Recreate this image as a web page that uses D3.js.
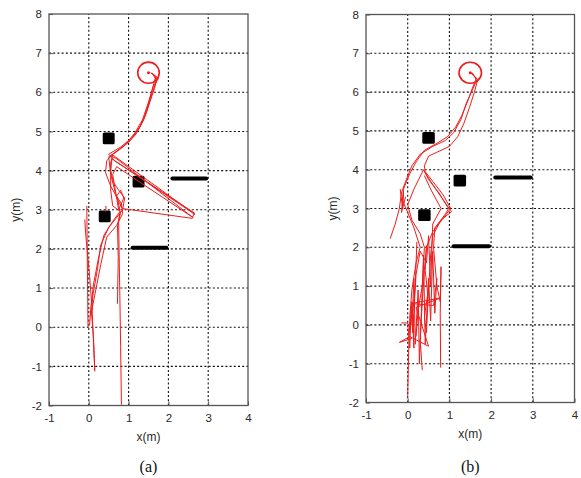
<!DOCTYPE html>
<html>
<head>
<meta charset="utf-8">
<script src="https://cdn.jsdelivr.net/npm/d3@7"></script>
<style>
  body { margin: 0; background: #fff; }
  svg { display: block; }
  .tick text { font-family: "Liberation Sans", Arial, sans-serif; font-size: 11.5px; fill: #2a2a2a; }
</style>
</head>
<body>
<svg id="chart" width="581" height="478"></svg>
<script>
// Axis ranges and tick values (metres)
const xTicks = [-1, 0, 1, 2, 3, 4];
const yTicks = [-2, -1, 0, 1, 2, 3, 4, 5, 6, 7, 8];
const panelLabels = ["(a)", "(b)"];

// Goal position and its capture radius
const goal = [1.5, 6.5];
const goalRadius = 0.27;

// Square obstacles: centre x, centre y, side
const squares = [[0.5, 4.82, 0.3], [1.25, 3.72, 0.3], [0.4, 2.83, 0.3]];
// Wall obstacles: x start, x end, y
const walls = [[1.1, 1.95, 2.03], [2.1, 2.95, 3.8]];

// Recorded robot paths, panel (a)
const pathsA = [
  [[0.02,0.05],[0.05,0.5],[0.12,1.1],[0.25,1.8],[0.38,2.35],[0.6,2.7],[0.78,2.95],[0.72,3.3],[0.55,3.6],[0.42,3.95],[0.45,4.25],[0.6,4.42],[0.85,4.6],[1.05,4.8],[1.25,5.05],[1.42,5.4],[1.55,5.8],[1.65,6.1],[1.72,6.38],[1.58,6.5]],
  [[0.15,-1.13],[0.12,-0.3],[0.07,0.35],[0.1,0.8],[0.22,1.5],[0.3,2.1],[0.5,2.55],[0.7,2.8],[0.85,3.0],[0.9,3.3],[0.75,3.5],[0.62,3.7],[0.55,4.0],[0.58,4.3],[2.65,2.92],[2.6,2.78],[0.85,3.03],[0.7,3.3],[0.55,3.9],[0.5,4.35],[0.75,4.52],[1.0,4.72],[1.2,4.95],[1.38,5.3],[1.5,5.7],[1.6,6.1],[1.68,6.4],[1.55,6.5]],
  [[0.82,-1.98],[0.8,-0.5],[0.78,0.8],[0.76,2.0],[0.75,2.7],[0.8,2.95],[0.6,3.1],[0.55,3.5],[0.55,4.2],[0.6,4.4],[2.67,2.88],[0.65,4.25],[0.5,4.42],[0.8,4.6],[1.1,4.85],[1.3,5.15],[1.45,5.5],[1.6,6.0],[1.7,6.3],[1.6,6.48]],
  [[0.05,0.3],[0.3,1.6],[0.45,2.3],[0.7,2.6],[0.85,2.9],[0.82,3.15],[0.7,3.35],[0.8,3.5],[0.88,3.3],[0.75,3.0],[0.6,3.9],[0.7,4.1],[2.62,2.8],[0.7,4.3],[0.55,4.38],[0.9,4.65],[1.15,4.95],[1.35,5.3],[1.5,5.75],[1.62,6.15],[1.75,6.35],[1.62,6.45]],
  [[-0.02,0.0],[-0.03,1.0],[-0.04,2.0],[-0.05,3.1]],
  [[-0.1,2.75],[-0.08,2.4],[0.02,1.3],[0.08,0.5],[0.15,-1.1]],
  [[0.72,0.6],[0.74,1.8],[0.72,2.6],[0.78,2.9]],
  [[0.43,3.1],[0.43,2.95]]
];

// Recorded robot paths, panel (b)
const pathsB = [
  [[0.0,-1.85],[0.02,-0.8],[0.05,0.2],[0.1,0.9],[0.2,1.6],[0.3,2.0],[0.15,2.5],[0.0,2.9],[-0.12,3.2],[-0.1,3.5],[0.05,3.9],[0.2,4.2],[0.4,4.5],[0.7,4.68],[0.95,4.85],[1.15,5.1],[1.3,5.4],[1.45,5.8],[1.55,6.1],[1.65,6.35],[1.52,6.5]],
  [[-0.42,2.22],[-0.3,2.6],[-0.2,3.0],[-0.15,3.4],[-0.05,3.7],[0.1,4.1],[0.3,4.4],[0.6,4.6],[0.9,4.75],[1.1,4.95],[1.28,5.3],[1.4,5.7],[1.55,6.05],[1.65,6.3],[1.55,6.5]],
  [[0.35,-1.17],[0.3,-0.4],[0.35,0.6],[0.4,1.4],[0.45,2.0],[0.6,2.4],[0.85,2.75],[1.03,3.0],[0.85,3.35],[0.6,3.7],[0.42,3.95],[0.4,4.1],[0.5,4.35],[0.7,4.45],[1.0,4.6],[1.2,4.85],[1.35,5.2],[1.48,5.6],[1.6,6.0],[1.68,6.33],[1.5,6.5]],
  [[0.79,-1.1],[0.78,0.3],[0.8,1.5],[0.78,0.6],[0.7,1.0],[0.62,2.0],[0.65,2.5],[0.9,2.85],[0.98,3.0],[0.75,3.4],[0.5,3.75],[0.38,4.0],[0.15,3.5],[0.0,3.1],[0.1,2.7],[0.3,2.35],[0.4,2.0],[0.35,1.0],[0.25,0.4],[0.2,-0.3]],
  [[0.1,0.0],[0.15,1.2],[0.18,-0.5],[0.25,0.9],[0.28,-1.0],[0.38,1.8],[0.42,-0.5],[0.5,1.2],[0.55,0.1],[0.6,1.9],[0.65,0.3],[0.7,1.2],[0.62,0.5],[0.1,0.55],[0.8,0.7],[0.2,0.45],[0.5,-0.55],[0.05,-0.3],[-0.2,-0.45],[0.1,-0.35]],
  [[-0.18,3.5],[-0.12,3.0],[-0.1,3.45],[-0.15,2.9],[-0.05,3.3]],
  [[-0.15,0.05],[0.0,0.05],[0.05,-0.6],[0.08,0.4],[0.12,-0.2],[0.2,1.3],[0.3,1.9],[0.45,1.6],[0.5,2.3],[0.55,1.0],[0.6,2.6],[0.8,3.0],[0.55,3.5],[0.4,3.85]],
  [[0.45,2.05],[0.42,1.4],[0.48,0.8],[0.4,0.2],[0.45,-0.2],[0.5,0.9],[0.55,1.8],[0.6,2.3],[0.8,2.7],[1.05,2.92],[0.8,3.3],[0.55,3.7],[0.38,3.99]],
  [[0.22,2.14],[0.18,1.0],[0.12,0.3],[0.15,-0.6],[0.1,0.6],[0.05,-0.2]]
];

const svg = d3.select("#chart");

const panels = [
  { paths: pathsA, label: panelLabels[0], x0: 49, x1: 248, y0: 405.5, y1: 14, yLab: 20 },
  { paths: pathsB, label: panelLabels[1], x0: 366, x1: 574.5, y0: 402.5, y1: 14.5, yLab: 337 }
];

panels.forEach(p => {
  const x = d3.scaleLinear().domain([-1, 4]).range([p.x0, p.x1]);
  const y = d3.scaleLinear().domain([-2, 8]).range([p.y0, p.y1]);
  const g = svg.append("g");

  // dotted grid
  g.append("g").selectAll("line").data(xTicks.slice(1, -1)).join("line")
    .attr("x1", d => x(d)).attr("x2", d => x(d))
    .attr("y1", p.y0).attr("y2", p.y1)
    .attr("stroke", "#111").attr("stroke-width", 1.1).attr("stroke-dasharray", "2,2.2");
  g.append("g").selectAll("line").data(yTicks.slice(1, -1)).join("line")
    .attr("y1", d => y(d)).attr("y2", d => y(d))
    .attr("x1", p.x0).attr("x2", p.x1)
    .attr("stroke", "#111").attr("stroke-width", 1.1).attr("stroke-dasharray", "2,2.2");

  // axes
  const ax = g.append("g").attr("transform", `translate(0,${p.y0})`)
    .call(d3.axisBottom(x).tickValues(xTicks).tickFormat(d => String(d)).tickSize(-4).tickPadding(8));
  const ay = g.append("g").attr("transform", `translate(${p.x0},0)`)
    .call(d3.axisLeft(y).tickValues(yTicks).tickFormat(d => String(d)).tickSize(-4).tickPadding(7));
  [ax, ay].forEach(a => {
    a.select(".domain").remove();
    a.selectAll(".tick line").attr("stroke", "#555");
  });

  // obstacles
  g.append("g").selectAll("rect").data(squares).join("rect")
    .attr("x", d => x(d[0] - d[2] / 2)).attr("y", d => y(d[1] + d[2] / 2))
    .attr("width", d => x(d[2]) - x(0)).attr("height", d => y(0) - y(d[2]))
    .attr("rx", 1.5).attr("fill", "#000");
  g.append("g").selectAll("line").data(walls).join("line")
    .attr("x1", d => x(d[0])).attr("x2", d => x(d[1]))
    .attr("y1", d => y(d[2])).attr("y2", d => y(d[2]))
    .attr("stroke", "#000").attr("stroke-width", 4).attr("stroke-linecap", "round");

  // trajectories
  const line = d3.line().x(d => x(d[0])).y(d => y(d[1]));
  g.append("g").selectAll("path").data(p.paths).join("path")
    .attr("d", line).attr("fill", "none")
    .attr("stroke", "#ee1c1c").attr("stroke-width", 1).attr("stroke-linejoin", "round");

  // goal
  g.append("ellipse")
    .attr("cx", x(goal[0])).attr("cy", y(goal[1]))
    .attr("rx", x(goalRadius) - x(0)).attr("ry", y(0) - y(goalRadius))
    .attr("fill", "none").attr("stroke", "#ee1c1c").attr("stroke-width", 1.6);
  g.append("circle").attr("cx", x(goal[0])).attr("cy", y(goal[1])).attr("r", 1.5).attr("fill", "#ee1c1c");

  // frame
  g.append("rect").attr("x", p.x0).attr("y", p.y1)
    .attr("width", p.x1 - p.x0).attr("height", p.y0 - p.y1)
    .attr("fill", "none").attr("stroke", "#555").attr("stroke-width", 1.3);

  // axis titles and panel label
  g.append("text").attr("x", (p.x0 + p.x1) / 2).attr("y", p.y0 + 35)
    .attr("text-anchor", "middle").attr("font-family", "Liberation Sans, Arial, sans-serif")
    .attr("font-size", 12).attr("fill", "#2a2a2a").text("x(m)");
  g.append("text").attr("transform", `translate(${p.yLab},${(p.y0 + p.y1) / 2}) rotate(-90)`)
    .attr("text-anchor", "middle").attr("font-family", "Liberation Sans, Arial, sans-serif")
    .attr("font-size", 12).attr("fill", "#2a2a2a").text("y(m)");
  g.append("text").attr("x", (p.x0 + p.x1) / 2).attr("y", 472)
    .attr("text-anchor", "middle").attr("font-family", "Liberation Serif, Times New Roman, serif")
    .attr("font-size", 16).attr("fill", "#111").text(p.label);
});
</script>
</body>
</html>
